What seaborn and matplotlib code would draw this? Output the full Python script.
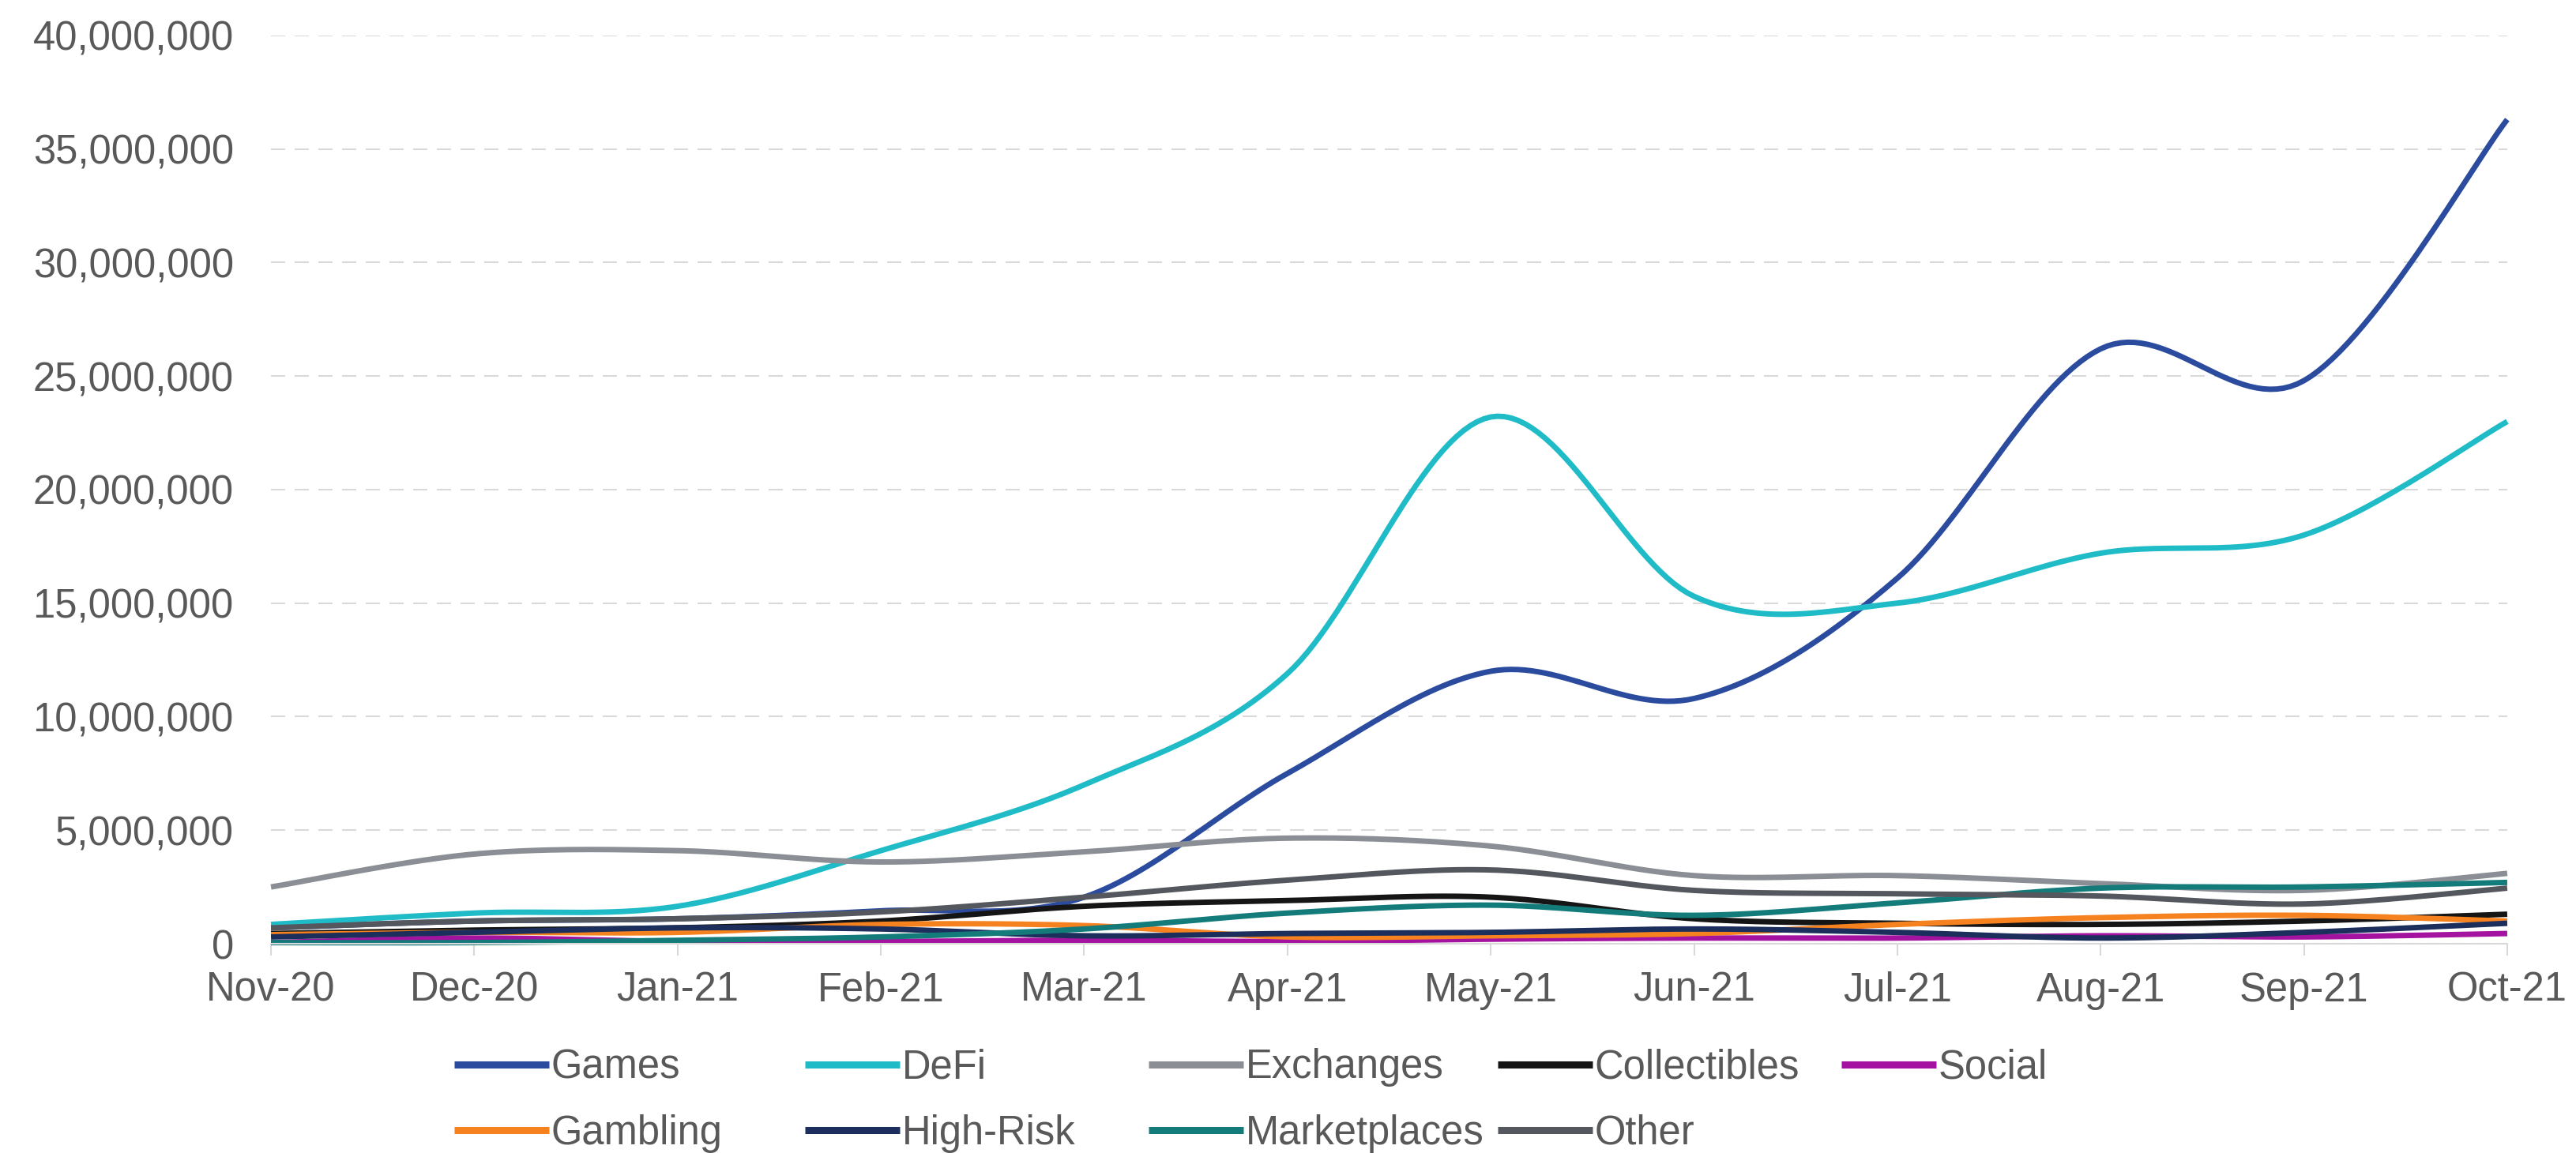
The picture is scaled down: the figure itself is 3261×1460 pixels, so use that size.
import numpy as np
import pandas as pd
import matplotlib
matplotlib.use("Agg")
import matplotlib.pyplot as plt
import seaborn as sns
from matplotlib.lines import Line2D
from matplotlib.ticker import FuncFormatter, MultipleLocator

# ---------------- data ----------------
months = ["Nov-20", "Dec-20", "Jan-21", "Feb-21", "Mar-21", "Apr-21",
          "May-21", "Jun-21", "Jul-21", "Aug-21", "Sep-21", "Oct-21"]

games        = [0.70e6, 1.00e6, 1.10e6, 1.45e6, 2.05e6, 7.5e6, 12.0e6, 10.8e6, 16.1e6, 26.2e6, 24.8e6, 36.3e6]
defi         = [0.85e6, 1.35e6, 1.65e6, 4.10e6, 7.00e6, 11.9e6, 23.2e6, 15.3e6, 15.0e6, 17.2e6, 18.0e6, 23.0e6]
exchanges    = [2.50e6, 3.95e6, 4.10e6, 3.60e6, 4.05e6, 4.65e6, 4.30e6, 3.00e6, 3.00e6, 2.65e6, 2.35e6, 3.10e6]
collectibles = [0.45e6, 0.60e6, 0.70e6, 1.00e6, 1.65e6, 1.90e6, 2.05e6, 1.10e6, 0.90e6, 0.85e6, 1.00e6, 1.30e6]
social       = [0.05e6, 0.25e6, 0.10e6, 0.10e6, 0.15e6, 0.10e6, 0.20e6, 0.25e6, 0.25e6, 0.35e6, 0.30e6, 0.45e6]
gambling     = [0.40e6, 0.50e6, 0.50e6, 0.85e6, 0.80e6, 0.30e6, 0.35e6, 0.45e6, 0.85e6, 1.15e6, 1.25e6, 1.00e6]
high_risk    = [0.30e6, 0.50e6, 0.70e6, 0.65e6, 0.35e6, 0.45e6, 0.50e6, 0.65e6, 0.50e6, 0.25e6, 0.50e6, 0.90e6]
marketplaces = [0.05e6, 0.05e6, 0.15e6, 0.30e6, 0.65e6, 1.35e6, 1.70e6, 1.25e6, 1.80e6, 2.45e6, 2.50e6, 2.70e6]
other        = [0.70e6, 1.00e6, 1.10e6, 1.40e6, 2.05e6, 2.80e6, 3.25e6, 2.35e6, 2.20e6, 2.10e6, 1.75e6, 2.45e6]

categories = ["Games", "DeFi", "Exchanges", "Collectibles", "Social",
              "Gambling", "High-Risk", "Marketplaces", "Other"]
series = [games, defi, exchanges, collectibles, social,
          gambling, high_risk, marketplaces, other]
colors = ["#2B4C9E", "#1FBCC8", "#8B8F95", "#151515", "#A4139F",
          "#F5821F", "#1B2E5C", "#147B7B", "#54575D"]

# ---------------- style ----------------
sns.set_theme(style="white")
plt.rcParams['font.family'] = ['Liberation Sans', 'DejaVu Sans']
TXT = "#595959"
GRID = "#D9D9D9"
FS = 36.5

fig = plt.figure(figsize=(32.61, 14.6), dpi=100)
ax = fig.add_axes([0.1052, 0.1815, 0.8681, 0.7877])


def smooth_curve(vals, n=30):
    """Excel-style smoothed line: Catmull-Rom Bezier through the monthly points."""
    p = np.column_stack([np.arange(len(vals), dtype=float), np.asarray(vals, dtype=float)])
    pts = np.vstack([p[0], p, p[-1]])
    out = []
    t = np.linspace(0, 1, n, endpoint=False)[:, None]
    for i in range(1, len(pts) - 2):
        p0, p1, p2, p3 = pts[i - 1], pts[i], pts[i + 1], pts[i + 2]
        c1 = p1 + (p2 - p0) / 6.0
        c2 = p2 - (p3 - p1) / 6.0
        b = ((1 - t) ** 3) * p1 + 3 * ((1 - t) ** 2) * t * c1 + 3 * (1 - t) * t ** 2 * c2 + t ** 3 * p2
        out.append(b)
    out.append(p[-1][None, :])
    arr = np.vstack(out)
    return arr[:, 0], arr[:, 1]


frames = []
for cat, vals in zip(categories, series):
    xs, ys = smooth_curve(vals)
    frames.append(pd.DataFrame({"x": xs, "value": ys, "category": cat}))
df = pd.concat(frames, ignore_index=True)

palette = dict(zip(categories, colors))
sns.lineplot(data=df, x="x", y="value", hue="category", hue_order=categories,
             palette=palette, linewidth=5.0, estimator=None, sort=False,
             legend=False, ax=ax)
for ln in ax.lines:
    ln.set_clip_on(False)
    ln.set_solid_capstyle("butt")
    ln.set_solid_joinstyle("round")

# ---------------- axes ----------------
ax.set_xlim(0, len(months) - 1)
ax.set_ylim(0, 40e6)
ax.set_xticks(range(len(months)))
ax.set_xticklabels(months)
ax.yaxis.set_major_locator(MultipleLocator(5e6))
ax.yaxis.set_major_formatter(FuncFormatter(lambda v, _: f"{v:,.0f}"))
ax.set_xlabel("")
ax.set_ylabel("")

ax.yaxis.grid(True, color=GRID, linestyle=(0, (8.6, 5.8)), linewidth=1.5)
ax.xaxis.grid(False)
ax.set_axisbelow(True)
for s in ["left", "top", "right"]:
    ax.spines[s].set_visible(False)
ax.spines["bottom"].set_color(GRID)
ax.spines["bottom"].set_linewidth(1.5)

ax.tick_params(axis="x", length=11, width=1.5, color=GRID, pad=14,
               labelsize=FS, labelcolor=TXT, direction="out", bottom=True)
ax.tick_params(axis="y", length=0, pad=34, labelsize=FS, labelcolor=TXT)

# ---------------- legend (fixed-width columns like the original) ----------------
col_x = [0.1763, 0.3125, 0.4459, 0.5814, 0.7148]
row_y = [0.0740, 0.0171]
for i, (cat, col) in enumerate(zip(categories, colors)):
    r, c = divmod(i, 5)
    h = Line2D([0], [0], color=col, lw=6.5, solid_capstyle="butt")
    leg = fig.legend(handles=[h], labels=[cat], loc="center left",
                     bbox_to_anchor=(col_x[c], row_y[r]), frameon=False,
                     borderpad=0, borderaxespad=0, handlelength=2.37,
                     handletextpad=0.05, fontsize=FS)
    for t in leg.get_texts():
        t.set_color(TXT)

fig.savefig("out.png", dpi=100, facecolor="white")
